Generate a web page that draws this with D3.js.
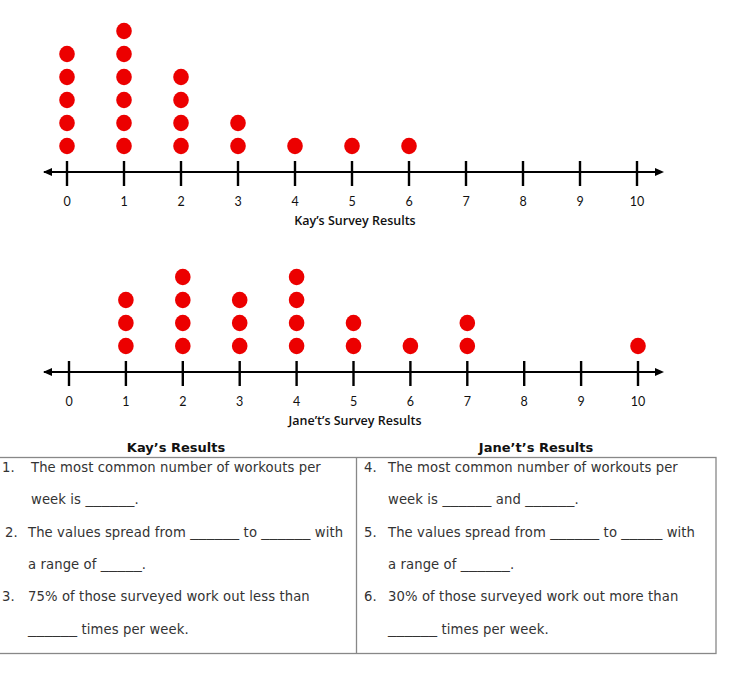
<!DOCTYPE html>
<html><head><meta charset="utf-8">
<script src="https://cdn.jsdelivr.net/npm/d3@7"></script>
<style>body{margin:0;background:#fff}svg{display:block}</style>
</head><body>
<script>
const categories = [0,1,2,3,4,5,6,7,8,9,10];
const kayCounts  = [5,6,4,2,1,1,1,0,0,0,0];
const janeCounts = [0,3,4,3,4,2,1,2,0,0,1];
const tickLabels = ["0","1","2","3","4","5","6","7","8","9","10"];
const plotTitles = ["Kay\u2019s Survey Results","Jane\u2019t\u2019s Survey Results"];
const tableHeaders = ["Kay\u2019s Results","Jane\u2019t\u2019s Results"];
const kayLines = [
  ["1.","The most common number of workouts per",2,31],
  ["","week is ______.",0,31],
  ["2.","The values spread from ______ to ______ with",5,28],
  ["","a range of _____.",0,28],
  ["3.","75% of those surveyed work out less than",2,28],
  ["","______ times per week.",0,28]
];
const janeLines = [
  ["4.","The most common number of workouts per",364,388],
  ["","week is ______ and ______.",0,388],
  ["5.","The values spread from ______ to _____ with",364,388],
  ["","a range of ______.",0,388],
  ["6.","30% of those surveyed work out more than",364,388],
  ["","______ times per week.",0,388]
];

const W=734,H=679;
const svg=d3.select("body").append("svg").attr("width",W).attr("height",H);

function dotPlot(counts, axisY, title, x0, x1){
  const x=d3.scaleLinear().domain([0,10]).range([x0,x1]);
  const y=d3.scaleLinear().domain([0,6]).range([axisY-3, axisY-3-6*23]);
  const g=svg.append("g");
  g.append("line").attr("x1",44).attr("x2",660).attr("y1",axisY).attr("y2",axisY)
   .attr("stroke","#000").attr("stroke-width",2.2);
  g.append("path").attr("d",`M43,${axisY} L52,${axisY-4} L52,${axisY+4} Z`).attr("fill","#000");
  g.append("path").attr("d",`M664,${axisY} L655,${axisY-4} L655,${axisY+4} Z`).attr("fill","#000");
  g.selectAll(".tk").data(categories).join("line")
   .attr("x1",d=>x(d)).attr("x2",d=>x(d)).attr("y1",axisY-11).attr("y2",axisY+14)
   .attr("stroke","#000").attr("stroke-width",2.4);
  g.selectAll(".lb").data(categories).join("text")
   .attr("x",d=>x(d)).attr("y",axisY+34).attr("text-anchor","middle")
   .attr("font-family","Lato, 'Open Sans', sans-serif").attr("font-size",12.5).attr("fill","#111")
   .text((d,i)=>tickLabels[i]);
  g.append("text").attr("x",355).attr("y",axisY+53).attr("text-anchor","middle")
   .attr("font-family","'Open Sans', Lato, sans-serif").attr("font-size",12.5).attr("font-weight",600).attr("fill","#111")
   .text(title);
  const dots=[];
  categories.forEach((c,i)=>{for(let k=1;k<=counts[i];k++)dots.push({c,k});});
  g.selectAll(".dot").data(dots).join("ellipse")
   .attr("cx",d=>x(d.c)).attr("cy",d=>y(d.k)).attr("rx",7.8).attr("ry",8.2)
   .attr("fill","#ec0000");
}
dotPlot(kayCounts,172,plotTitles[0],67,637);
dotPlot(janeCounts,372,plotTitles[1],69,638);

// table
const font="'DejaVu Sans', Verdana, sans-serif";
svg.append("text").attr("x",176).attr("y",452).attr("text-anchor","middle")
  .attr("font-family",font).attr("font-size",13).attr("font-weight","bold").attr("fill","#111").text(tableHeaders[0]);
svg.append("text").attr("x",536).attr("y",452).attr("text-anchor","middle")
  .attr("font-family",font).attr("font-size",13).attr("font-weight","bold").attr("fill","#111").text(tableHeaders[1]);
const tb=svg.append("g").attr("stroke","#888").attr("stroke-width",1.3).attr("fill","none");
tb.append("rect").attr("x",-1).attr("y",457.5).attr("width",717).attr("height",196);
tb.append("line").attr("x1",356.5).attr("x2",356.5).attr("y1",457.5).attr("y2",653.5);
const rowY=[472,504,537,569,601,634];
function lines(arr){
  arr.forEach((l,i)=>{
    if(l[0]) svg.append("text").attr("x",l[2]).attr("y",rowY[i]).attr("font-family",font).attr("font-size",13.2).attr("fill","#333").text(l[0]);
    const t=svg.append("text").attr("x",l[3]).attr("y",rowY[i]).attr("font-family",font).attr("font-size",13.2)
      .attr("letter-spacing",0.1).attr("fill","#333");
    l[1].split(/(_+)/).filter(s=>s.length).forEach(s=>{
      const sp=t.append("tspan").text(s);
      if(s[0]==="_") sp.attr("textLength",s.length*8.2).attr("lengthAdjust","spacingAndGlyphs");
    });
  });
}
lines(kayLines); lines(janeLines);
</script>
</body></html>
